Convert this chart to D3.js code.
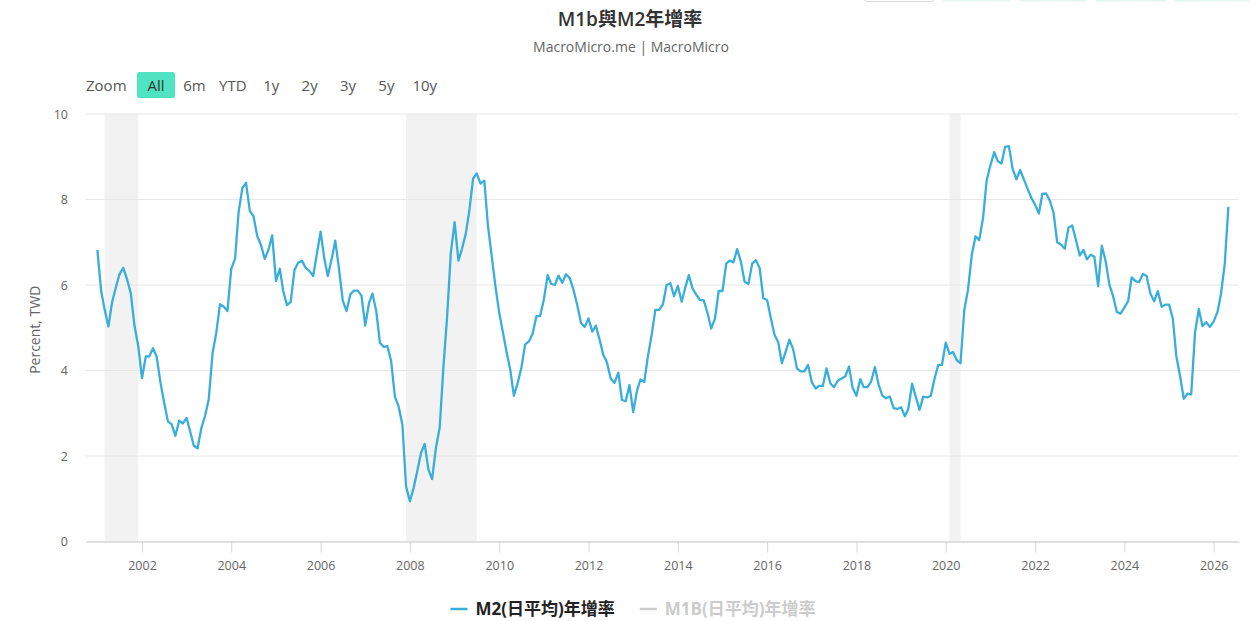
<!DOCTYPE html>
<html>
<head>
<meta charset="utf-8">
<script src="https://cdn.jsdelivr.net/npm/d3@7"></script>
<style>
body { margin: 0; background: #fff; }
svg { display: block; font-family: "Open Sans", "Noto Sans CJK TC", sans-serif; }
</style>
</head>
<body>
<svg id="chart" width="1258" height="621"></svg>
<script>
const chartTitle = 'M1b與M2年增率';
const chartSubtitle = 'MacroMicro.me | MacroMicro';
const yAxisTitle = 'Percent, TWD';
const seriesNames = ['M2(日平均)年增率', 'M1B(日平均)年增率'];
const seriesColors = ['#3aaedb', '#cccccc'];

// monthly M2 yoy, starting Jan 2001
const firstMonth = '2001-01';
const m2Values = [
    6.82, 5.86, 5.43, 5.03, 5.59, 5.94, 6.25, 6.40, 6.13, 5.81, 5.04, 4.58,
    3.82, 4.33, 4.33, 4.52, 4.32, 3.72, 3.25, 2.81, 2.74, 2.47, 2.83, 2.76,
    2.89, 2.55, 2.24, 2.18, 2.65, 2.94, 3.33, 4.40, 4.89, 5.55, 5.49, 5.39,
    6.38, 6.61, 7.70, 8.27, 8.39, 7.73, 7.61, 7.14, 6.93, 6.61, 6.83, 7.16,
    6.09, 6.38, 5.86, 5.53, 5.60, 6.35, 6.52, 6.57, 6.40, 6.33, 6.21, 6.72,
    7.25, 6.60, 6.21, 6.60, 7.04, 6.36, 5.64, 5.39, 5.78, 5.87, 5.87, 5.75,
    5.05, 5.58, 5.80, 5.39, 4.65, 4.55, 4.57, 4.22, 3.38, 3.16, 2.73, 1.29,
    0.94, 1.25, 1.64, 2.07, 2.28, 1.68, 1.46, 2.19, 2.66, 4.06, 5.27, 6.75,
    7.47, 6.57, 6.83, 7.18, 7.73, 8.49, 8.61, 8.37, 8.44, 7.38, 6.67, 5.97,
    5.35, 4.88, 4.45, 4.02, 3.41, 3.71, 4.06, 4.61, 4.68, 4.86, 5.27, 5.27,
    5.66, 6.23, 6.03, 6.00, 6.22, 6.05, 6.25, 6.16, 5.88, 5.53, 5.11, 5.02,
    5.22, 4.91, 5.05, 4.72, 4.37, 4.18, 3.81, 3.71, 3.95, 3.31, 3.28, 3.66,
    3.03, 3.53, 3.79, 3.73, 4.33, 4.84, 5.42, 5.42, 5.55, 6.00, 6.04, 5.74,
    5.98, 5.61, 5.92, 6.23, 5.92, 5.77, 5.65, 5.64, 5.34, 4.98, 5.22, 5.86,
    5.86, 6.50, 6.57, 6.53, 6.84, 6.54, 6.08, 6.02, 6.50, 6.58, 6.40, 5.69,
    5.65, 5.22, 4.84, 4.66, 4.17, 4.44, 4.72, 4.50, 4.05, 3.98, 3.98, 4.13,
    3.72, 3.58, 3.64, 3.64, 4.05, 3.70, 3.61, 3.76, 3.81, 3.86, 4.09, 3.59,
    3.41, 3.80, 3.61, 3.61, 3.74, 4.08, 3.67, 3.41, 3.35, 3.39, 3.12, 3.10,
    3.14, 2.93, 3.10, 3.69, 3.39, 3.08, 3.39, 3.37, 3.41, 3.80, 4.13, 4.13,
    4.65, 4.39, 4.43, 4.24, 4.17, 5.42, 5.88, 6.70, 7.14, 7.05, 7.56, 8.45,
    8.80, 9.11, 8.90, 8.84, 9.23, 9.25, 8.72, 8.47, 8.69, 8.47, 8.25, 8.04,
    7.88, 7.67, 8.13, 8.14, 7.98, 7.69, 7.00, 6.95, 6.85, 7.34, 7.39, 7.06,
    6.69, 6.82, 6.60, 6.71, 6.66, 5.97, 6.92, 6.56, 6.01, 5.74, 5.37, 5.33,
    5.47, 5.62, 6.18, 6.09, 6.07, 6.26, 6.21, 5.80, 5.62, 5.86, 5.49, 5.54,
    5.54, 5.21, 4.34, 3.87, 3.34, 3.46, 3.44, 4.88, 5.44, 5.04, 5.13, 5.02,
    5.15, 5.37, 5.78, 6.48, 7.83
];

// shaded recession periods [from, to)
const recessions = [['2001-03', '2001-12'], ['2007-12', '2009-07'], ['2020-02', '2020-05']];

const yTicks = [0, 2, 4, 6, 8, 10];
const xTickYears = [2002, 2004, 2006, 2008, 2010, 2012, 2014, 2016, 2018, 2020, 2022, 2024, 2026];
const zoomButtons = ['All', '6m', 'YTD', '1y', '2y', '3y', '5y', '10y'];

const parseMonth = d3.timeParse('%Y-%m');
const startMonth = parseMonth(firstMonth);
const data = m2Values.map(function(v, i) {
    return { date: d3.timeMonth.offset(startMonth, i), value: v };
});

const svg = d3.select('#chart');
const plotL = 86, plotR = 1239, plotT = 114, plotB = 541.5;

let x = d3.scaleTime()
    .domain([new Date(2002, 0, 1), new Date(2026, 0, 1)])
    .range([142, 1213.7]);
x.domain([x.invert(plotL), x.invert(plotR)]).range([plotL, plotR]);

let y = d3.scaleLinear()
    .domain([0, 10])
    .range([plotB, plotT]);

// cut-off export buttons at the very top
let topBtns = [[864, 70, '#fff'], [942, 69, '#e4f4ef'], [1018, 70, '#e4f4ef'], [1095, 72, '#e4f4ef'], [1174, 76, '#e4f4ef']];
svg.selectAll('rect.topbtn')
    .data(topBtns)
    .enter().append('rect')
    .attr('class', 'topbtn')
    .attr('x', function(d) { return d[0]; })
    .attr('y', -10)
    .attr('width', function(d) { return d[1]; })
    .attr('height', 11.5)
    .attr('rx', 3)
    .attr('fill', function(d) { return d[2]; })
    .attr('stroke', function(d) { return d[2] == '#fff' ? '#ddd' : 'none'; });

// title
svg.append('text')
    .attr('x', 630)
    .attr('y', 26)
    .attr('text-anchor', 'middle')
    .attr('font-size', 19)
    .attr('font-weight', 600)
    .attr('fill', '#333')
    .text(chartTitle);

svg.append('text')
    .attr('x', 631)
    .attr('y', 51.5)
    .attr('text-anchor', 'middle')
    .attr('font-size', 14)
    .attr('fill', '#666')
    .text(chartSubtitle);

// range selector
svg.append('text')
    .attr('x', 86)
    .attr('y', 90.5)
    .attr('font-size', 15)
    .attr('fill', '#555')
    .text('Zoom');

let btns = svg.selectAll('g.zoombtn')
    .data(zoomButtons)
    .enter().append('g')
    .attr('class', 'zoombtn')
    .attr('transform', function(d, i) { return 'translate(' + (137 + i * 38.4) + ',72)'; });

btns.append('rect')
    .attr('width', 38)
    .attr('height', 26)
    .attr('rx', 2)
    .attr('fill', function(d, i) { return i == 0 ? '#50e3c2' : 'none'; });

btns.append('text')
    .attr('x', 19)
    .attr('y', 18.5)
    .attr('text-anchor', 'middle')
    .attr('font-size', 15)
    .attr('fill', function(d, i) { return i == 0 ? '#333' : '#555'; })
    .text(function(d) { return d; });

// recession bands
svg.selectAll('rect.band')
    .data(recessions)
    .enter().append('rect')
    .attr('class', 'band')
    .attr('x', function(d) { return x(parseMonth(d[0])); })
    .attr('y', plotT)
    .attr('width', function(d) { return x(parseMonth(d[1])) - x(parseMonth(d[0])); })
    .attr('height', plotB - plotT)
    .attr('fill', '#f2f2f2');

// gridlines
svg.selectAll('line.grid')
    .data(yTicks.slice(1))
    .enter().append('line')
    .attr('class', 'grid')
    .attr('x1', plotL)
    .attr('x2', plotR)
    .attr('y1', function(d) { return y(d); })
    .attr('y2', function(d) { return y(d); })
    .attr('stroke', '#e6e6e6')
    .attr('stroke-width', 1);

// y axis labels
let yAxis = svg.append('g')
    .attr('transform', 'translate(' + plotL + ',0)')
    .call(d3.axisLeft(y).tickValues(yTicks).tickSize(0).tickPadding(18));
yAxis.select('.domain').remove();
yAxis.selectAll('text')
    .attr('font-family', 'Open Sans, sans-serif')
    .attr('font-size', 12.5)
    .attr('fill', '#666');

svg.append('text')
    .attr('transform', 'translate(40,' + ((plotT + plotB) / 2 + 2) + ') rotate(-90)')
    .attr('text-anchor', 'middle')
    .attr('font-size', 14)
    .attr('fill', '#666')
    .text(yAxisTitle);

// x axis
let xAxis = svg.append('g')
    .attr('transform', 'translate(0,' + plotB + ')')
    .call(d3.axisBottom(x)
        .tickValues(xTickYears.map(function(yr) { return new Date(yr, 0, 1); }))
        .tickFormat(d3.timeFormat('%Y'))
        .tickSizeInner(11)
        .tickSizeOuter(0)
        .tickPadding(9));
xAxis.select('.domain')
    .attr('stroke', '#d6d6d6')
    .attr('stroke-width', 1.5);
xAxis.selectAll('.tick line')
    .attr('stroke', '#d6d6d6');
xAxis.selectAll('text')
    .attr('font-family', 'Open Sans, sans-serif')
    .attr('font-size', 12.5)
    .attr('fill', '#666');

// series line
let line = d3.line()
    .x(function(d) { return x(d.date); })
    .y(function(d) { return y(d.value); });

svg.append('path')
    .attr('d', line(data))
    .attr('stroke', seriesColors[0])
    .attr('stroke-width', 2.3)
    .attr('stroke-linejoin', 'round')
    .attr('fill', 'none');

// legend
let legend = svg.append('g');
let lx = 0;
seriesNames.forEach(function(name, i) {
    let item = legend.append('g').attr('transform', 'translate(' + lx + ',0)');
    item.append('line')
        .attr('x1', 0)
        .attr('x2', 17)
        .attr('y1', 0)
        .attr('y2', 0)
        .attr('stroke', seriesColors[i])
        .attr('stroke-width', 2.5);
    let t = item.append('text')
        .attr('x', 25)
        .attr('y', 6)
        .attr('font-size', 17)
        .attr('font-weight', 'bold')
        .attr('fill', i == 0 ? '#222' : '#ccc')
        .text(name);
    lx += 25 + t.node().getComputedTextLength() + 25;
});
let legendW = lx - 25;
legend.attr('transform', 'translate(' + (633 - legendW / 2) + ',609)');
</script>
</body>
</html>
